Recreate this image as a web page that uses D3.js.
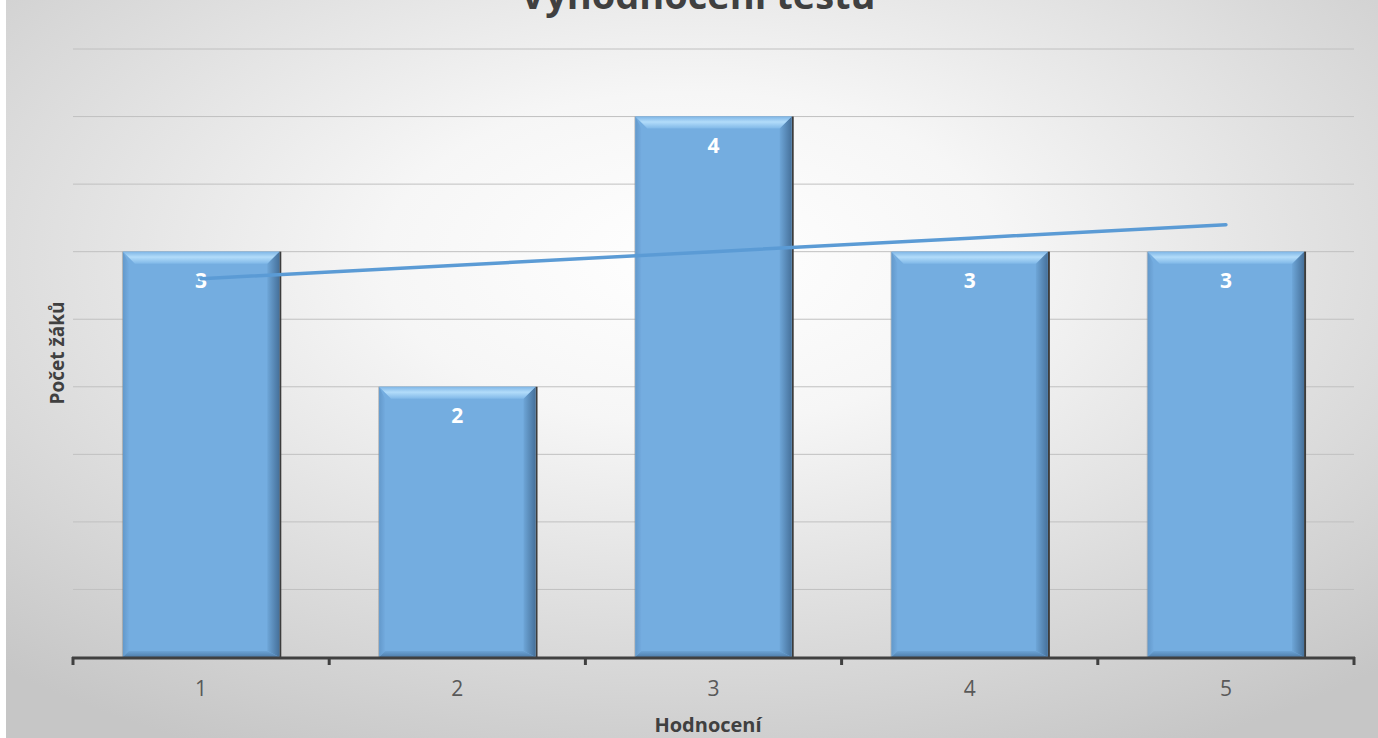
<!DOCTYPE html>
<html>
<head>
<meta charset="utf-8">
<script src="https://cdn.jsdelivr.net/npm/d3@7"></script>
<style>
  body { margin: 0; background: #fff; }
  text { font-family: "Open Sans", sans-serif; }
</style>
</head>
<body>
<div id="chart"></div>
<script>
// chart size
var svgWidth = 1378;
var svgHeight = 738;

// data
var categories = ["1", "2", "3", "4", "5"];
var counts = [3, 2, 4, 3, 3];
var yTicks = [0, 0.5, 1, 1.5, 2, 2.5, 3, 3.5, 4, 4.5];

var titleText = "Vyhodnocení testu";
var xTitle = "Hodnocení";
var yTitle = "Počet žáků";

var svg = d3.select("#chart")
  .append("svg")
  .attr("width", svgWidth)
  .attr("height", svgHeight);

var defs = svg.append("defs");

// background gradient
var bg = defs.append("radialGradient")
  .attr("id", "bg")
  .attr("cx", "50%").attr("cy", "35%").attr("r", "75%");
bg.append("stop").attr("offset", "0%").attr("stop-color", "#ffffff");
bg.append("stop").attr("offset", "30%").attr("stop-color", "#f6f6f6");
bg.append("stop").attr("offset", "100%").attr("stop-color", "#c6c6c6");

// bevel gradients
var gTop = defs.append("linearGradient").attr("id", "bevTop")
  .attr("x1", 0).attr("y1", 0).attr("x2", 0).attr("y2", 1);
gTop.append("stop").attr("offset", "0%").attr("stop-color", "#7fb6e6");
gTop.append("stop").attr("offset", "45%").attr("stop-color", "#b2dcfa");
gTop.append("stop").attr("offset", "100%").attr("stop-color", "#80b8e8");

var gRight = defs.append("linearGradient").attr("id", "bevRight")
  .attr("x1", 0).attr("y1", 0).attr("x2", 1).attr("y2", 0);
gRight.append("stop").attr("offset", "0%").attr("stop-color", "#6ea6d8");
gRight.append("stop").attr("offset", "100%").attr("stop-color", "#46719b");

var gBottom = defs.append("linearGradient").attr("id", "bevBottom")
  .attr("x1", 0).attr("y1", 0).attr("x2", 0).attr("y2", 1);
gBottom.append("stop").attr("offset", "0%").attr("stop-color", "#6ca3d5");
gBottom.append("stop").attr("offset", "100%").attr("stop-color", "#4f7eab");

var gLeft = defs.append("linearGradient").attr("id", "bevLeft")
  .attr("x1", 0).attr("y1", 0).attr("x2", 1).attr("y2", 0);
gLeft.append("stop").attr("offset", "0%").attr("stop-color", "#6399cb");
gLeft.append("stop").attr("offset", "100%").attr("stop-color", "#73abdf");

svg.append("rect")
  .attr("x", 6).attr("y", 0)
  .attr("width", svgWidth - 6).attr("height", svgHeight)
  .attr("fill", "url(#bg)");

// scales
var x = d3.scaleBand()
  .domain(categories)
  .range([73, 1354])
  .paddingInner(0.39)
  .paddingOuter(0.195);

var y = d3.scaleLinear()
  .domain([0, 4.5])
  .range([657, 49]);

// gridlines
svg.append("g")
  .selectAll("line")
  .data(yTicks.slice(1))
  .enter()
  .append("line")
  .attr("x1", 73).attr("x2", 1354)
  .attr("y1", d => y(d)).attr("y2", d => y(d))
  .attr("stroke", "#c0c0c0")
  .attr("stroke-width", 1);

// bars
var bev = 12;
var bars = svg.append("g").selectAll("g")
  .data(counts)
  .enter()
  .append("g");

bars.each(function(d, i) {
  var g = d3.select(this);
  var x0 = x(categories[i]);
  var x1 = x0 + x.bandwidth();
  var y0 = y(d);
  var yb = y(0);

  // shadow
  g.append("rect")
    .attr("x", x0 - 1).attr("y", y0)
    .attr("width", x1 - x0 + 3).attr("height", yb - y0)
    .attr("fill", "#8a8a8a").attr("opacity", 0.5);
  g.append("rect")
    .attr("x", x1).attr("y", y0)
    .attr("width", 2).attr("height", yb - y0)
    .attr("fill", "#3c3c3c");

  g.append("rect")
    .attr("x", x0).attr("y", y0)
    .attr("width", x1 - x0).attr("height", yb - y0)
    .attr("fill", "#74ade0");

  g.append("polygon")
    .attr("points", [[x0, y0], [x0 + bev * 0.5, y0 + bev], [x0 + bev * 0.5, yb - 6], [x0, yb]].join(" "))
    .attr("fill", "url(#bevLeft)");
  g.append("polygon")
    .attr("points", [[x1, y0], [x1 - bev, y0 + bev], [x1 - bev, yb - 6], [x1, yb]].join(" "))
    .attr("fill", "url(#bevRight)");
  g.append("polygon")
    .attr("points", [[x0, yb], [x0 + bev * 0.5, yb - 6], [x1 - bev, yb - 6], [x1, yb]].join(" "))
    .attr("fill", "url(#bevBottom)");
  g.append("polygon")
    .attr("points", [[x0, y0], [x1, y0], [x1 - bev, y0 + bev], [x0 + bev, y0 + bev]].join(" "))
    .attr("fill", "url(#bevTop)");
});

// value labels
svg.append("g").selectAll("text")
  .data(counts)
  .enter()
  .append("text")
  .attr("x", (d, i) => x(categories[i]) + x.bandwidth() / 2)
  .attr("y", d => y(d) + 36)
  .attr("text-anchor", "middle")
  .attr("font-size", "21px")
  .attr("font-weight", "bold")
  .attr("fill", "#ffffff")
  .text(d => d);

// linear trendline (least squares)
var xs = counts.map((d, i) => i + 1);
var mx = d3.mean(xs), my = d3.mean(counts);
var slope = d3.sum(xs, (v, i) => (v - mx) * (counts[i] - my)) / d3.sum(xs, v => (v - mx) * (v - mx));
var icpt = my - slope * mx;

var line = d3.line()
  .x((d, i) => x(categories[i]) + x.bandwidth() / 2)
  .y(d => y(d));

svg.append("path")
  .datum(xs.map(v => icpt + slope * v))
  .attr("d", line)
  .attr("fill", "none")
  .attr("stroke", "#5b9bd5")
  .attr("stroke-width", 3.5)
  .attr("stroke-linecap", "round");

// x axis
var xAxisG = svg.append("g");
xAxisG.append("line")
  .attr("x1", 72).attr("x2", 1355)
  .attr("y1", 658).attr("y2", 658)
  .attr("stroke", "#404040").attr("stroke-width", 3);

var bounds = categories.map(c => x(c) - x.step() * x.paddingInner() / 2);
bounds.push(1354);
bounds[0] = 73;
xAxisG.selectAll(".tick")
  .data(bounds)
  .enter()
  .append("line")
  .attr("x1", d => d).attr("x2", d => d)
  .attr("y1", 657).attr("y2", 665)
  .attr("stroke", "#404040").attr("stroke-width", 3);

xAxisG.selectAll(".lab")
  .data(categories)
  .enter()
  .append("text")
  .attr("x", d => x(d) + x.bandwidth() / 2)
  .attr("y", 696)
  .attr("text-anchor", "middle")
  .attr("font-size", "21px")
  .attr("fill", "#595959")
  .text(d => d);

// titles
svg.append("text")
  .attr("x", 708)
  .attr("y", 732)
  .attr("text-anchor", "middle")
  .attr("font-size", "20px")
  .attr("font-weight", "bold")
  .attr("fill", "#404040")
  .text(xTitle);

svg.append("text")
  .attr("transform", "translate(64, 353) rotate(-90)")
  .attr("text-anchor", "middle")
  .attr("font-size", "19px")
  .attr("font-weight", "bold")
  .attr("fill", "#404040")
  .text(yTitle);

svg.append("text")
  .attr("x", 698)
  .attr("y", 9)
  .attr("text-anchor", "middle")
  .attr("font-size", "38px")
  .attr("font-weight", "bold")
  .attr("fill", "#404040")
  .text(titleText);
</script>
</body>
</html>
